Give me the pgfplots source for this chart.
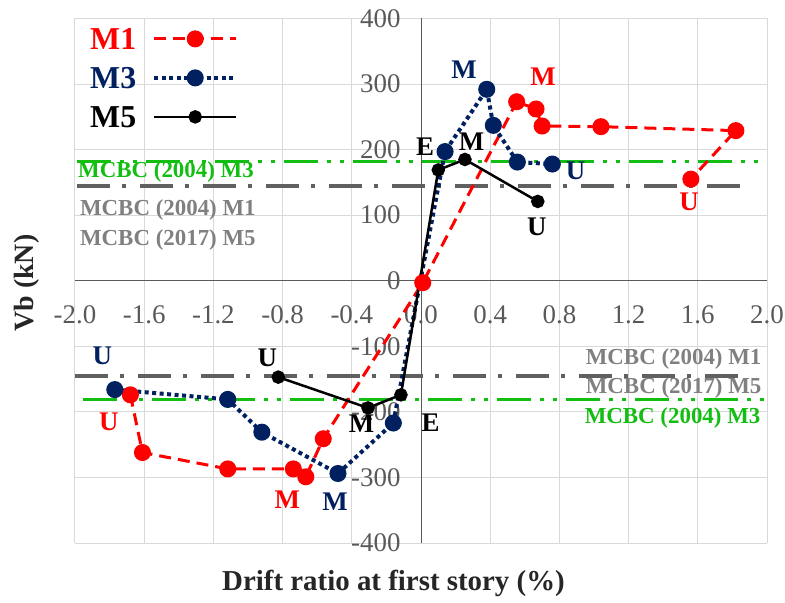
\documentclass[border=0pt]{standalone}
\usepackage{pgfplots}
\pgfplotsset{compat=1.18}
\usepackage{fontspec}
\setmainfont{Liberation Serif}
\definecolor{mred}{HTML}{FF0000}
\definecolor{mnavy}{HTML}{002060}
\definecolor{mgreen}{HTML}{12BE12}
\definecolor{mgray}{HTML}{606060}
\definecolor{tgray}{HTML}{808080}
\definecolor{gridc}{HTML}{D9D9D9}
\definecolor{axc}{HTML}{595959}
\definecolor{ttl}{HTML}{262626}
\begin{document}
\begin{tikzpicture}
\useasboundingbox (-75bp,-60bp) rectangle (710bp,543bp);
\begin{axis}[
  scale only axis, width=692bp, height=524.5bp,
  xmin=-2, xmax=2, ymin=-400, ymax=400, enlargelimits=false,
  axis lines=middle, axis line style={axc, line width=1bp, -},
  xtick={-2,-1.6,-1.2,-0.8,-0.4,0,0.4,0.8,1.2,1.6,2},
  xticklabels={-2.0,-1.6,-1.2,-0.8,-0.4,0.0,0.4,0.8,1.2,1.6,2.0},
  ytick={-400,-300,-200,-100,0,100,200,300,400},
  yticklabels={-400,-300,-200,-100,0,100,200,300,400},
  hide obscured x ticks=false, hide obscured y ticks=false,
  major tick length=0,
  grid=major, major grid style={gridc, line width=1bp},
  tick label style={font=\fontsize{27}{27}\selectfont, text=axc},
  xticklabel style={anchor=north, yshift=-21bp},
  yticklabel style={anchor=east, xshift=-17bp},
  clip=false,
  legend plot pos=right,
  legend cell align=right,
  legend image code/.code={\draw[mark repeat=2,mark phase=2,#1] plot coordinates {(0bp,0bp) (41bp,0bp) (82bp,0bp)};},
  legend style={draw=none, fill=none, at={(axis description cs:0.013,0.992)}, anchor=north west,
    font=\bfseries\fontsize{32}{32}\selectfont, row sep=11bp, column sep=13bp,
    nodes={inner sep=3bp, text height=22bp, text depth=0bp}},
]
% code lines
\addplot[forget plot, mgreen, line width=3.5bp, dash pattern=on 34bp off 9bp on 4bp off 9bp on 4bp off 9bp] coordinates {(-1.99,182) (1.96,182)};
\addplot[forget plot, mgreen, line width=3.5bp, dash pattern=on 34bp off 9bp on 4bp off 9bp on 4bp off 9bp] coordinates {(-1.954,-181) (1.99,-181)};
\addplot[forget plot, mgray, line width=4bp, dash pattern=on 33bp off 12bp on 4bp off 14bp] coordinates {(-1.99,145) (1.91,145)};
\addplot[forget plot, mgray, line width=4bp, dash pattern=on 33bp off 12bp on 4bp off 14bp] coordinates {(-2,-145) (1.89,-145)};
% series
\addplot[mred, line width=3bp, dash pattern=on 12bp off 7bp, mark=*, mark size=7bp, mark options={solid, fill=mred, draw=mred}] coordinates {
(-1.68,-174) (-1.61,-262) (-1.117,-287) (-0.738,-287) (-0.666,-299) (-0.565,-241) (0.01,-3) (0.553,273) (0.665,262) (0.70,236) (1.04,235) (1.82,229) (1.56,155)};
\addlegendentry{\textcolor{mred}{M1}}
\addplot[mnavy, line width=4bp, dash pattern=on 4bp off 3.5bp, mark=*, mark size=6.5bp, mark options={solid, fill=mnavy, draw=mnavy}] coordinates {
(-1.77,-166) (-1.117,-181) (-0.92,-231) (-0.48,-294) (-0.16,-217) (0.139,197) (0.38,292) (0.418,237) (0.557,181) (0.759,178)};
\addlegendentry{\textcolor{mnavy}{M3}}
\addplot[black, line width=2.5bp, mark=*, mark size=5.5bp, mark options={solid, fill=black, draw=black}] coordinates {
(-0.825,-147) (-0.306,-194) (-0.116,-174) (0.1,169) (0.254,185) (0.675,121)};
\addlegendentry{\textcolor{black}{M5}}
% code labels
\begin{scope}[every node/.style={font=\bfseries\fontsize{23}{23}\selectfont, inner sep=0pt}]
\node[anchor=west, text=mgreen] at (axis cs:-1.983,166) {MCBC (2004) M3};
\node[anchor=west, text=tgray] at (axis cs:-1.972,108) {MCBC (2004) M1};
\node[anchor=west, text=tgray] at (axis cs:-1.972,62.5) {MCBC (2017) M5};
\node[anchor=east, text=tgray] at (axis cs:1.969,-120) {MCBC (2004) M1};
\node[anchor=east, text=tgray] at (axis cs:1.969,-163.6) {MCBC (2017) M5};
\node[anchor=east, text=mgreen] at (axis cs:1.963,-209) {MCBC (2004) M3};
\end{scope}
% point labels
\begin{scope}[every node/.style={font=\bfseries\fontsize{27}{27}\selectfont, inner sep=0pt}]
\node[text=mred] at (axis cs:0.705,311) {M};
\node[text=mred] at (axis cs:1.549,120) {U};
\node[text=mred] at (axis cs:-1.804,-215) {U};
\node[text=mred] at (axis cs:-0.773,-334) {M};
\node[text=mnavy] at (axis cs:0.249,322) {M};
\node[text=mnavy] at (axis cs:0.894,167) {U};
\node[text=mnavy] at (axis cs:-1.842,-114) {U};
\node[text=mnavy] at (axis cs:-0.497,-337) {M};
\node[text=black] at (axis cs:0.023,204) {E};
\node[text=black] at (axis cs:0.293,212) {M};
\node[text=black] at (axis cs:0.669,83) {U};
\node[text=black] at (axis cs:-0.888,-117) {U};
\node[text=black] at (axis cs:-0.343,-218) {M};
\node[text=black] at (axis cs:0.056,-217) {E};
\end{scope}
\end{axis}
\node[font=\bfseries\fontsize{29}{29}\selectfont, text=ttl] at (318.5bp,-40bp) {Drift ratio at first story (\%)};
\node[font=\bfseries\fontsize{28}{28}\selectfont, text=ttl, rotate=90] at (-48bp,260bp) {Vb (kN)};
\end{tikzpicture}
\end{document}
